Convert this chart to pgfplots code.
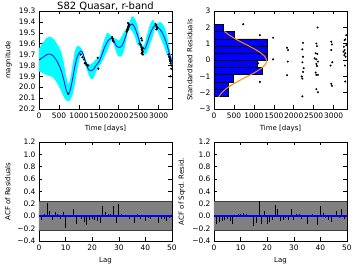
\documentclass[border=0pt]{standalone}
\usepackage{fontspec}
\setmainfont{DejaVu Sans}
\usepackage{pgfplots}
\pgfplotsset{compat=1.18}
\usepgfplotslibrary{fillbetween}
\definecolor{mycyan}{rgb}{0,1,1}
\definecolor{myblue}{rgb}{0,0,1}
\definecolor{myorange}{rgb}{1,0.55,0}
\definecolor{mygray}{rgb}{0.5,0.5,0.5}
\pgfplotsset{
 myax/.style={scale only axis, width=133pt, height=98pt, anchor=south west,
   tick label style={font=\fontsize{7.5}{8}\selectfont},
   label style={font=\fontsize{7}{8}\selectfont},
   tick align=inside, major tick length=3.5pt,
   axis line style={black, line width=0.6pt},
   every tick/.style={black, line width=0.5pt},
 },
 acfax/.style={myax, height=99pt, xmin=0, xmax=50, ymin=-0.4, ymax=1.2,
   xtick={0,10,20,30,40,50}, xticklabels={0,10,20,30,40,50},
   ytick={-0.4,-0.2,0,0.2,0.4,0.6,0.8,1.0,1.2},
   yticklabels={−0.4,−0.2,0.0,0.2,0.4,0.6,0.8,1.0,1.2},
   xlabel={Lag}},
}
\begin{document}
\begin{tikzpicture}
% ---------------- top left
\begin{axis}[myax, at={(39pt,161pt)}, xmin=0, xmax=3336, ymin=19.3, ymax=20.2, y dir=reverse,
  xtick={0,500,1000,1500,2000,2500,3000}, xticklabels={0,500,1000,1500,2000,2500,3000},
  ytick={19.3,19.4,19.5,19.6,19.7,19.8,19.9,20.0,20.1,20.2},
  yticklabels={19.3,19.4,19.5,19.6,19.7,19.8,19.9,20.0,20.1,20.2},
  xlabel={Time [days]}, ylabel={magnitude},
  title={S82 Quasar, r-band}, title style={font=\fontsize{10}{12}\selectfont, anchor=base, yshift=-4.8pt}]
\addplot[name path=bandA, draw=none, smooth] coordinates {(0,19.645)(100,19.59)(200,19.545)(260,19.537)(350,19.55)(450,19.60)(550,19.67)(620,19.77)(680,19.90)(730,19.97)(780,19.93)(840,19.80)(900,19.67)(960,19.62)(1046,19.635)(1100,19.67)(1170,19.75)(1230,19.79)(1290,19.79)(1360,19.77)(1430,19.745)(1500,19.73)(1560,19.66)(1640,19.56)(1720,19.50)(1811,19.53)(1880,19.55)(1950,19.56)(2010,19.57)(2080,19.53)(2150,19.48)(2230,19.45)(2300,19.37)(2340,19.35)(2400,19.37)(2470,19.43)(2540,19.57)(2600,19.62)(2650,19.60)(2700,19.53)(2780,19.43)(2850,19.38)(2910,19.41)(2960,19.42)(3040,19.40)(3120,19.43)(3200,19.51)(3280,19.66)(3336,19.74)};
\addplot[name path=bandB, draw=none, smooth] coordinates {(0,19.855)(100,19.87)(200,19.89)(260,19.895)(350,19.91)(450,19.96)(550,20.03)(620,20.09)(680,20.12)(730,20.13)(780,20.12)(840,20.07)(900,19.97)(960,19.84)(1046,19.70)(1100,19.72)(1170,19.80)(1230,19.87)(1290,19.92)(1360,19.92)(1430,19.86)(1500,19.81)(1560,19.78)(1640,19.72)(1720,19.66)(1811,19.57)(1880,19.61)(1950,19.69)(2010,19.72)(2080,19.71)(2150,19.64)(2230,19.49)(2300,19.47)(2340,19.49)(2400,19.53)(2470,19.61)(2540,19.63)(2600,19.67)(2650,19.70)(2700,19.69)(2780,19.61)(2850,19.54)(2910,19.46)(2960,19.47)(3040,19.54)(3120,19.61)(3200,19.69)(3280,19.74)(3336,19.81)};
\addplot[fill=mycyan, draw=none] fill between[of=bandA and bandB];
\addplot[myblue, line width=0.8pt, smooth] coordinates {(0,19.75)(100,19.725)(200,19.70)(260,19.695)(350,19.71)(450,19.76)(550,19.84)(620,19.93)(680,20.02)(730,20.063)(780,20.03)(840,19.93)(900,19.81)(960,19.72)(1046,19.668)(1100,19.69)(1170,19.77)(1230,19.83)(1290,19.85)(1360,19.84)(1430,19.80)(1500,19.77)(1560,19.72)(1640,19.64)(1720,19.58)(1811,19.55)(1880,19.58)(1950,19.625)(2010,19.635)(2080,19.62)(2150,19.56)(2230,19.47)(2300,19.425)(2340,19.42)(2400,19.45)(2470,19.52)(2540,19.60)(2600,19.645)(2650,19.65)(2700,19.61)(2780,19.52)(2850,19.46)(2910,19.435)(2960,19.445)(3040,19.47)(3120,19.52)(3200,19.60)(3280,19.70)(3336,19.775)};
\addplot[only marks, mark=*, mark size=0.9pt, black] coordinates {(733,20.06)
(1046,19.70)(1089,19.725)(1131,19.745)(1150,19.78)(1173,19.78)(1191,19.795)(1217,19.80)(1233,19.80)
(1471,19.73)(1488,19.83)
(1833,19.54)(1850,19.555)(1858,19.57)(1870,19.58)
(2200,19.49)(2217,19.47)(2225,19.46)(2233,19.45)(2240,19.44)(2250,19.42)(2260,19.43)(2217,19.48)(2233,19.41)
(2525,19.60)(2550,19.61)(2567,19.63)(2575,19.65)(2583,19.66)(2592,19.68)(2600,19.64)(2608,19.70)(2567,19.55)(2583,19.57)(2600,19.67)(2575,19.69)
(2925,19.42)(2942,19.43)(2958,19.45)(2942,19.47)(2967,19.46)
(3250,19.70)(3267,19.72)(3275,19.73)(3283,19.75)(3292,19.76)(3300,19.78)(3317,19.80)(3317,19.83)(3300,19.90)(3292,19.74)};
\end{axis}
% ---------------- top right
\begin{axis}[myax, at={(214pt,161pt)}, xmin=0, xmax=3336, ymin=-3, ymax=3,
  xtick={0,500,1000,1500,2000,2500,3000}, xticklabels={0,500,1000,1500,2000,2500,3000},
  ytick={-3,-2,-1,0,1,2,3}, yticklabels={−3,−2,−1,0,1,2,3},
  xlabel={Time [days]}, ylabel={Standardized Residuals}]
\addplot[xbar interval, fill=myblue, draw=black, line width=0.4pt] coordinates {(358,-2.23)(358,-1.79)(483,-1.35)(1208,-0.90)(1092,-0.46)(1333,-0.02)(1333,0.42)(1333,0.86)(500,1.30)(233,1.75)(233,2.19)};
\addplot[myorange, line width=1pt, smooth] coordinates {(112,-2.27)(197,-2.0)(311,-1.75)(461,-1.5)(643,-1.25)(841,-1.0)(1033,-0.75)(1193,-0.5)(1294,-0.25)(1318,0)(1262,0.25)(1135,0.5)(958,0.75)(761,1.0)(567,1.25)(397,1.5)(261,1.75)};
\addplot[only marks, mark=*, mark size=0.8pt, black] coordinates {(733,2.19)(1150,1.52)(1217,0.95)(1125,0.37)(1108,-0.2)(1150,-1.34)(1483,1.36)(1483,0.04)
(1833,0.75)(1858,0.61)(1850,-0.1)(1833,-0.93)
(2233,1.05)(2217,0.65)(2233,0.2)(2217,-0.14)(2250,-0.5)(2233,-0.73)(2200,-1.01)(2217,-1.14)(2217,-2.23)
(2567,1.01)(2583,0.85)(2550,0.41)(2592,0.37)(2525,0.1)(2567,0.04)(2608,-0.1)(2567,-0.24)(2583,-0.37)(2550,-0.77)(2608,-0.91)(2567,-0.91)(2567,-1.79)(2608,-1.97)(2600,1.99)
(2942,1.12)(2958,0.95)(2942,0.61)(2967,-0.14)(2925,-0.34)(2942,-1.46)(2958,-1.58)
(3275,1.22)(3292,1.26)(3258,0.81)(3275,0.61)(3250,0.51)(3292,0.41)(3267,0.3)(3300,0.2)(3283,-0.34)(3292,-1.32)(3317,1.52)(3317,0.91)};
\end{axis}
% ---------------- bottom left
\begin{axis}[acfax, at={(39pt,29pt)}, ylabel={ACF of Residuals}]
\addplot[fill=mygray, draw=none] coordinates {(0,-0.235)(50,-0.235)(50,0.235)(0,0.235)(0,-0.235)};
\addplot[black!75, line width=0.6pt] coordinates {(0,0.235)(50,0.235)};
\addplot[black!75, line width=0.6pt] coordinates {(0,-0.235)(50,-0.235)};
\addplot[ycomb, black, line width=0.8pt, mark=none] coordinates {(1,-0.06)(2,0.04)(3,0.22)(4,0.08)(5,-0.06)(6,0.07)(7,0.04)(8,-0.04)(9,0.07)(10,-0.19)(11,0.02)(12,-0.01)(13,0.11)(14,-0.12)(15,-0.02)(16,-0.05)(17,-0.09)(18,-0.14)(19,-0.06)(20,-0.04)(21,-0.06)(22,-0.07)(23,-0.11)(24,0.16)(25,0.07)(26,0.03)(27,0.04)(28,0.16)(29,-0.11)(30,0.20)(31,0.04)(32,0.01)(33,0.005)(34,-0.04)(35,-0.01)(36,-0.11)(37,0.04)(38,-0.05)(39,-0.02)(40,-0.07)(41,-0.03)(42,-0.05)(43,-0.02)(44,-0.01)(45,-0.11)(46,-0.05)(47,-0.05)(48,-0.08)(49,-0.03)};
\addplot[myblue, line width=1.5pt] coordinates {(0,0)(50,0)};
\end{axis}
% ---------------- bottom right
\begin{axis}[acfax, at={(214pt,29pt)}, ylabel={ACF of Sqrd. Resid.}]
\addplot[fill=mygray, draw=none] coordinates {(0,-0.235)(50,-0.235)(50,0.235)(0,0.235)(0,-0.235)};
\addplot[black!75, line width=0.6pt] coordinates {(0,0.235)(50,0.235)};
\addplot[black!75, line width=0.6pt] coordinates {(0,-0.235)(50,-0.235)};
\addplot[ycomb, black, line width=0.8pt, mark=none] coordinates {(1,-0.12)(2,-0.09)(3,-0.08)(4,-0.06)(5,-0.04)(6,-0.07)(7,-0.13)(8,0.02)(9,0.03)(10,0.03)(11,0.05)(12,0.04)(13,0.02)(14,0.01)(15,-0.15)(16,-0.11)(17,0.24)(18,-0.12)(19,0.09)(20,-0.13)(21,-0.10)(22,-0.06)(23,0.18)(24,0.11)(25,-0.08)(26,-0.06)(27,-0.03)(28,-0.06)(29,0.11)(30,-0.06)(31,0.04)(32,0.03)(33,-0.05)(34,0.01)(35,-0.12)(36,-0.02)(37,0.03)(38,0.02)(39,-0.14)(40,0.17)(41,0.05)(42,-0.03)(43,-0.06)(44,-0.09)(45,-0.01)(46,0.09)(47,-0.03)(48,0.12)(49,-0.04)};
\addplot[myblue, line width=1.5pt] coordinates {(0,0)(50,0)};
\end{axis}
\pgfresetboundingbox
\path[use as bounding box] (0,0) rectangle (360pt,270pt);
\end{tikzpicture}
\end{document}
